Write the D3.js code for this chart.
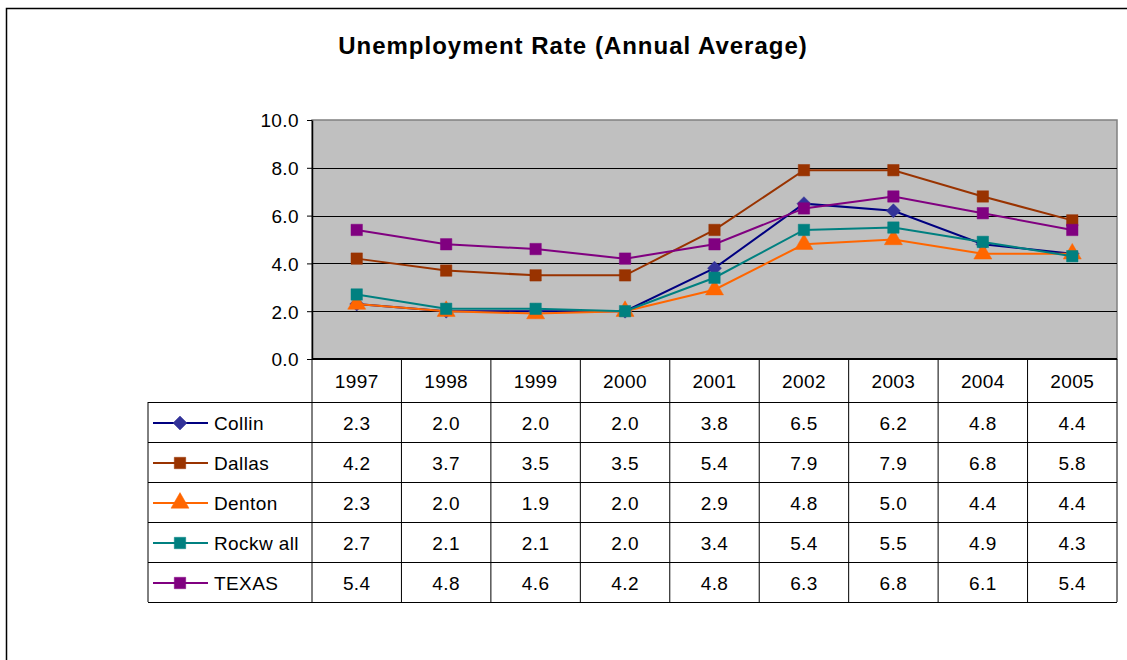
<!DOCTYPE html>
<html>
<head>
<meta charset="utf-8">
<script src="https://cdn.jsdelivr.net/npm/d3@7"></script>
<style>
  body { margin: 0; background: #fff; }
  text { font-family: "Liberation Sans", Arial, sans-serif; fill: #000; }
</style>
</head>
<body>
<svg width="1127" height="660"></svg>
<script>
var years = ["1997", "1998", "1999", "2000", "2001", "2002", "2003", "2004", "2005"];
var names = ["Collin", "Dallas", "Denton", "Rockw all", "TEXAS"];
var collin   = [2.3, 2.0, 2.0, 2.0, 3.8, 6.5, 6.2, 4.8, 4.4];
var dallas   = [4.2, 3.7, 3.5, 3.5, 5.4, 7.9, 7.9, 6.8, 5.8];
var denton   = [2.3, 2.0, 1.9, 2.0, 2.9, 4.8, 5.0, 4.4, 4.4];
var rockwall = [2.7, 2.1, 2.1, 2.0, 3.4, 5.4, 5.5, 4.9, 4.3];
var texas    = [5.4, 4.8, 4.6, 4.2, 4.8, 6.3, 6.8, 6.1, 5.4];
var yTicks = [0, 2, 4, 6, 8, 10];

// plain 45-degree diamond like Excel's marker
var squareDiamond = {
    draw: function (context, size) {
        var r = Math.sqrt(size / 2);
        context.moveTo(0, -r);
        context.lineTo(r, 0);
        context.lineTo(0, r);
        context.lineTo(-r, 0);
        context.closePath();
    }
};

var lineColors = ["#000080", "#993300", "#FF6600", "#008080", "#800080"];
var markColors = ["#333399", "#993300", "#FF6600", "#008080", "#800080"];
var shapes = [squareDiamond, d3.symbolSquare, d3.symbolTriangle, d3.symbolSquare, d3.symbolSquare];
var sizes = [98, 130, 140, 130, 130];

var series = [collin, dallas, denton, rockwall, texas].map(function (v, i) {
    return { name: names[i], values: v, line: lineColors[i], mark: markColors[i], shape: shapes[i], size: sizes[i] };
});

var svg = d3.select("svg");
var fs = "19px";

// outer frame
svg.append("rect").attr("x", 6.5).attr("y", 8.5).attr("width", 1130).attr("height", 660)
    .attr("fill", "none").attr("stroke", "#000").attr("stroke-width", 1.5);

svg.append("text").attr("x", 573).attr("y", 54).attr("text-anchor", "middle")
    .attr("font-size", "24px").attr("font-weight", "bold").attr("letter-spacing", "1px")
    .text("Unemployment Rate (Annual Average)");

var pLeft = 312, pRight = 1117, pTop = 120, pBottom = 359;
var x = d3.scaleBand().domain(years).range([pLeft, pRight]);
var y = d3.scaleLinear().domain([0, 10]).range([pBottom, pTop]);

// plot area
svg.append("rect").attr("x", pLeft).attr("y", pTop).attr("width", pRight - pLeft).attr("height", pBottom - pTop)
    .attr("fill", "#C0C0C0").attr("stroke", "#808080").attr("stroke-width", 1.5);

svg.append("g").selectAll("line").data(yTicks.slice(1, -1)).join("line")
    .attr("x1", pLeft).attr("x2", pRight)
    .attr("y1", function (d) { return Math.round(y(d)) + 0.5; })
    .attr("y2", function (d) { return Math.round(y(d)) + 0.5; })
    .attr("stroke", "#000").attr("stroke-width", 1);

var yAxis = svg.append("g").attr("transform", "translate(" + pLeft + ",0)")
    .call(d3.axisLeft(y).tickValues(yTicks).tickFormat(d3.format(".1f")).tickSize(5).tickSizeOuter(0));
yAxis.select(".domain").attr("stroke", "#000").attr("stroke-width", 1.5);
yAxis.selectAll(".tick line").attr("stroke", "#000");
yAxis.selectAll(".tick text").attr("font-size", fs).attr("x", -13).attr("dy", "0.36em")
    .attr("letter-spacing", "0.4px")
    .attr("font-family", "Liberation Sans, Arial, sans-serif");

svg.append("line").attr("x1", pLeft).attr("x2", pRight).attr("y1", pBottom).attr("y2", pBottom)
    .attr("stroke", "#000").attr("stroke-width", 2);

// lines and markers
var line = d3.line()
    .x(function (d, i) { return x(years[i]) + x.bandwidth() / 2; })
    .y(function (d) { return y(d); });

series.forEach(function (s) {
    svg.append("path").attr("d", line(s.values)).attr("fill", "none")
        .attr("stroke", s.line).attr("stroke-width", 2);
    svg.append("g").selectAll("path").data(s.values).join("path")
        .attr("transform", function (d, i) {
            return "translate(" + (x(years[i]) + x.bandwidth() / 2) + "," + y(d) + ")";
        })
        .attr("d", d3.symbol().type(s.shape).size(s.size))
        .attr("fill", s.mark).attr("stroke", s.mark).attr("stroke-width", 0.5);
});

// data table
var tableLeft = 148, headH = 43, rowH = 40;
var rowTop = pBottom + headH;
var tableBottom = rowTop + rowH * series.length;
var tg = svg.append("g").attr("stroke", "#000").attr("stroke-width", 1);

years.forEach(function (yr) {
    tg.append("line").attr("x1", x(yr)).attr("x2", x(yr)).attr("y1", pBottom).attr("y2", tableBottom);
});
tg.append("line").attr("x1", pRight).attr("x2", pRight).attr("y1", pBottom).attr("y2", tableBottom);
tg.append("line").attr("x1", tableLeft).attr("x2", tableLeft).attr("y1", rowTop).attr("y2", tableBottom);
d3.range(series.length + 1).forEach(function (i) {
    tg.append("line").attr("x1", tableLeft).attr("x2", pRight)
        .attr("y1", rowTop + i * rowH + 0.5).attr("y2", rowTop + i * rowH + 0.5);
});

svg.append("g").selectAll("text").data(years).join("text")
    .attr("x", function (d) { return x(d) + x.bandwidth() / 2; })
    .attr("y", pBottom + headH / 2 + 7)
    .attr("text-anchor", "middle").attr("font-size", fs).attr("letter-spacing", "0.4px")
    .text(function (d) { return d; });

series.forEach(function (s, r) {
    var cy = rowTop + r * rowH + rowH / 2 + 1;
    svg.append("line").attr("x1", 153).attr("x2", 208).attr("y1", cy).attr("y2", cy)
        .attr("stroke", s.line).attr("stroke-width", 2);
    svg.append("path").attr("transform", "translate(180," + cy + ")")
        .attr("d", d3.symbol().type(s.shape).size(s.size))
        .attr("fill", s.mark).attr("stroke", s.mark).attr("stroke-width", 0.5);
    svg.append("text").attr("x", 214).attr("y", cy + 7).attr("font-size", fs)
        .attr("letter-spacing", "0.4px").text(s.name);
    svg.append("g").selectAll("text").data(s.values).join("text")
        .attr("x", function (d, i) { return x(years[i]) + x.bandwidth() / 2; })
        .attr("y", cy + 7)
        .attr("text-anchor", "middle").attr("font-size", fs).attr("letter-spacing", "0.4px")
        .text(function (d) { return d3.format(".1f")(d); });
});
</script>
</body>
</html>
